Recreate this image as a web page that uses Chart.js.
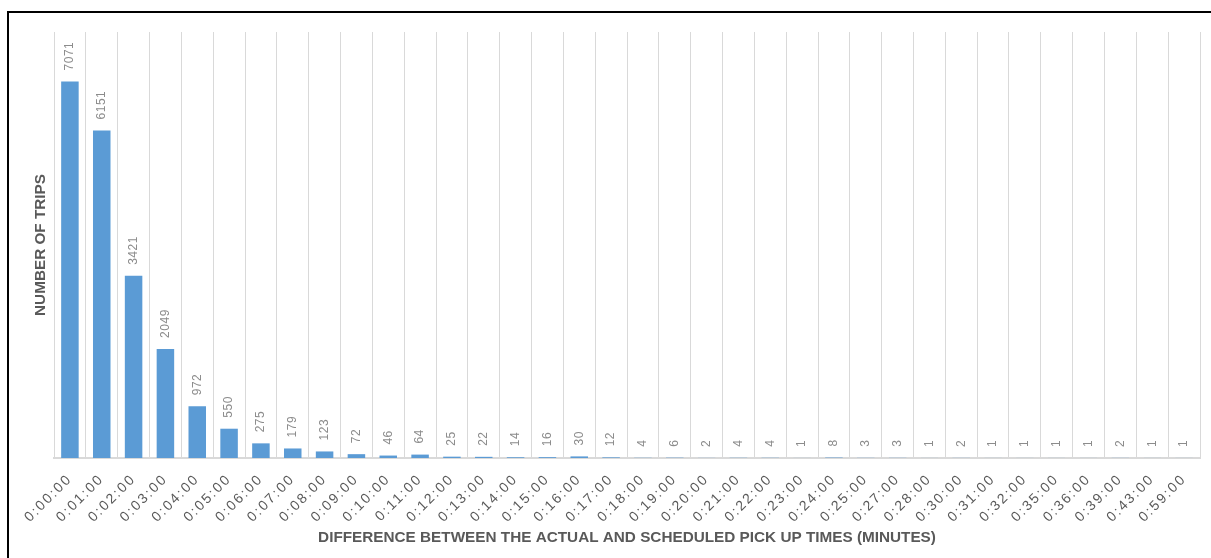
<!DOCTYPE html>
<html>
<head>
<meta charset="utf-8">
<script src="https://cdn.jsdelivr.net/npm/chart.js@4.4.1/dist/chart.umd.min.js"></script>
<style>
  html, body { margin: 0; padding: 0; background: #fff; overflow: hidden; }
  #wrap { position: relative; width: 1211px; height: 558px; }
  #frame { position: absolute; left: 7px; top: 11px; width: 1300px; height: 700px;
           border: 2px solid #000; box-sizing: border-box; pointer-events: none; }
</style>
</head>
<body>
<div id="wrap">
  <canvas id="c" width="1211" height="558"></canvas>
  <div id="frame"></div>
</div>
<script>
// Pick-up delay buckets (h:mm:ss) and the number of trips in each
const categories = ['0:00:00','0:01:00','0:02:00','0:03:00','0:04:00','0:05:00','0:06:00','0:07:00','0:08:00','0:09:00',
  '0:10:00','0:11:00','0:12:00','0:13:00','0:14:00','0:15:00','0:16:00','0:17:00','0:18:00','0:19:00',
  '0:20:00','0:21:00','0:22:00','0:23:00','0:24:00','0:25:00','0:27:00','0:28:00','0:30:00','0:31:00',
  '0:32:00','0:35:00','0:36:00','0:39:00','0:43:00','0:59:00'];
const trips = [7071,6151,3421,2049,972,550,275,179,123,72,
  46,64,25,22,14,16,30,12,4,6,
  2,4,4,1,8,3,3,1,2,1,
  1,1,1,2,1,1];
const yMax = 8000;

const xTitle = 'DIFFERENCE BETWEEN THE ACTUAL AND SCHEDULED PICK UP TIMES (MINUTES)';
const yTitle = 'NUMBER OF TRIPS';

const FONT = '"Liberation Sans", Arial, sans-serif';

// Category tick labels are drawn with a little extra letter spacing
const CategoryScale = Chart.registry.getScale('category');
const baseDrawLabels = CategoryScale.prototype.drawLabels;
CategoryScale.prototype.drawLabels = function (area) {
  const ctx = this.ctx;
  const prev = ctx.letterSpacing;
  ctx.letterSpacing = '2px';
  baseDrawLabels.call(this, area);
  ctx.letterSpacing = prev || '0px';
};

// Writes each bar's count vertically just above the bar
const valueLabels = {
  id: 'valueLabels',
  afterDatasetsDraw(chart) {
    const ctx = chart.ctx;
    const meta = chart.getDatasetMeta(0);
    const data = chart.data.datasets[0].data;
    ctx.save();
    ctx.font = '12px ' + FONT;
    ctx.letterSpacing = '0.5px';
    ctx.fillStyle = '#8c8c8c';
    ctx.textAlign = 'left';
    ctx.textBaseline = 'middle';
    meta.data.forEach((bar, i) => {
      ctx.save();
      ctx.translate(bar.x, bar.y - 11);
      ctx.rotate(-Math.PI / 2);
      ctx.fillText(String(data[i]), 0, 0);
      ctx.restore();
    });
    ctx.restore();
  }
};

new Chart(document.getElementById('c'), {
  type: 'bar',
  data: {
    labels: categories,
    datasets: [{
      data: trips,
      backgroundColor: '#5b9bd5',
      borderWidth: 0,
      barPercentage: 0.55,
      categoryPercentage: 1
    }]
  },
  options: {
    responsive: false,
    devicePixelRatio: 1,
    animation: false,
    layout: { padding: { top: 32, right: 11, left: 0, bottom: 0 } },
    plugins: { legend: { display: false }, tooltip: { enabled: false } },
    scales: {
      x: {
        offset: true,
        grid: { display: true, offset: true, color: '#d9d9d9', lineWidth: 1, drawTicks: false },
        border: { display: true, color: '#d9d9d9', width: 2 },
        ticks: {
          color: '#595959',
          font: { family: FONT, size: 14 },
          minRotation: 45, maxRotation: 45,
          padding: 13,
          autoSkip: false
        },
        title: {
          display: true, text: xTitle, color: '#595959',
          font: { family: FONT, size: 15.3, weight: 'bold' },
          padding: { top: 0, bottom: 11 }
        },
        afterFit(scale) { scale.height = 100; }
      },
      y: {
        min: 0, max: yMax,
        grid: { display: false },
        border: { display: false },
        ticks: { display: false },
        title: {
          display: true, text: yTitle, color: '#595959',
          font: { family: FONT, size: 15.3, weight: 'bold' },
          padding: { top: 32, bottom: 0 }
        },
        afterFit(scale) { scale.width = 54; }
      }
    }
  },
  plugins: [valueLabels]
});
</script>
</body>
</html>
